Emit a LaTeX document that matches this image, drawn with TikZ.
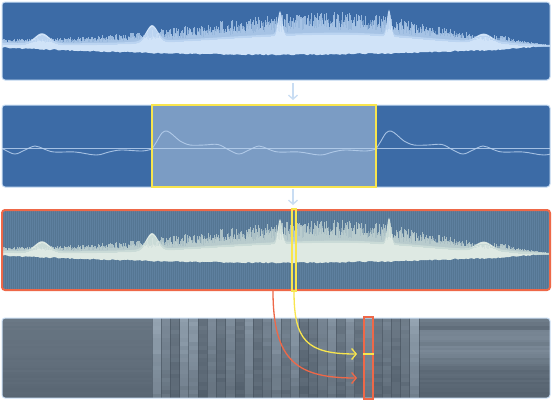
\documentclass[tikz,border=0pt]{standalone}
\usetikzlibrary{arrows.meta}
\definecolor{pblue}{HTML}{3C6BA6}
\definecolor{pborder}{HTML}{C9DDF3}
\definecolor{wcore}{HTML}{D0E3F8}
\definecolor{whair}{HTML}{B8D2F0}
\definecolor{ylw}{HTML}{F8E54E}
\definecolor{selfill}{HTML}{7B9CC4}
\definecolor{curvec}{HTML}{B9D1EE}
\definecolor{steel}{HTML}{5E809F}
\definecolor{steeldark}{HTML}{52728F}
\definecolor{mint}{HTML}{DEE9E3}
\definecolor{minthair}{HTML}{C8D9D6}
\definecolor{redc}{HTML}{EE6848}
\definecolor{sDark}{HTML}{434F5B}
\definecolor{sLight}{HTML}{A3B3C2}
\pgfmathdeclarefunction{gss}{3}{\pgfmathparse{exp(-min(abs((#1-#2)/#3),6)*min(abs((#1-#2)/#3),6))}}
\pgfmathdeclarefunction{wamp}{1}{\pgfmathparse{(6+36*gss(#1,330,(#1<330)*200+(#1>=330)*135))*min(1,(551-#1)/45)}}
\pgfmathdeclarefunction{wlow}{1}{\pgfmathparse{47+7*sin(0.328467*(#1-2))-2*max(0,(#1-500)/50)}}
\pgfmathdeclarefunction{coretop}{1}{\pgfmathparse{wlow(#1)-0.5*wamp(#1)-10*gss(#1,42,10)-16*gss(#1,152,8)-8*gss(#1,484,11)-23*gss(#1,280,3)-25*gss(#1,389,2.8)}}
\newcommand{\drawwave}[2]{%
  \pgfmathsetseed{5}%
  \fill[#1] plot[domain=2:550, samples=549, variable=\x] (\x,{coretop(\x)}) -- plot[domain=550:2, samples=275, variable=\x] (\x,{wlow(\x)+1.3*rnd}) -- cycle;
  \foreach \x in {2.5,3.5,...,549.5}{%
    \pgfmathsetmacro\hb{coretop(\x)+2}%
    \pgfmathsetmacro\ht{wlow(\x)-wamp(\x)*(0.62+0.38*rnd)}%
    \draw[#2, opacity=.75] (\x,\hb) -- (\x,\ht);
  }%
  \foreach \x in {3,4,...,549}{%
    \pgfmathsetmacro\hb{coretop(\x)+2}%
    \pgfmathsetmacro\ht{wlow(\x)-wamp(\x)*(0.55+0.3*rnd)}%
    \draw[#2, opacity=.45] (\x,\hb) -- (\x,\ht);
  }%
}
\begin{document}
\begin{tikzpicture}[x=1pt,y=-1pt,
  panel/.style={rounded corners=3pt, draw=pborder, line width=1pt},
  flowarrow/.style={draw=pborder, line width=1.3pt, -{Straight Barb[length=4pt,width=9pt]}},
  hairA/.style={whair, line width=.7pt},
  hairB/.style={minthair, line width=.7pt},
  selbox/.style={draw=ylw, line width=1.8pt},
  ylink/.style={draw=ylw, line width=1.3pt, -{Straight Barb[length=4.5pt,width=11pt]}},
  rlink/.style={draw=redc, line width=1.3pt, -{Straight Barb[length=4.5pt,width=11pt]}},
  thinline/.style={line width=.9pt, opacity=.85}]
\useasboundingbox (0,0) rectangle (552,400);
\fill[white] (0,0) rectangle (552,400);

% ---------- panel 1 ----------
\fill[pblue, rounded corners=3pt] (2,2) rectangle (550,80);
\begin{scope}
  \clip[rounded corners=3pt] (2,2) rectangle (550,80);
  \drawwave{wcore}{hairA}
\end{scope}
\draw[panel] (2,2) rectangle (550,80);

% ---------- panel 2 ----------
\fill[pblue, rounded corners=3pt] (2,105) rectangle (550,187);
\fill[selfill] (152,105) rectangle (376,187);
\begin{scope}
  \clip[rounded corners=3pt] (2,105) rectangle (550,187);
  \draw[curvec, thinline] (2,148) -- (550,148);
  \foreach \s in {-224,0,224}{
    \begin{scope}[shift={(152+\s,0)}]
      \draw[curvec, thinline] plot[smooth, tension=.6] coordinates {(0,149) (5,141) (10,133) (15,131) (21,135) (28,141) (38,145) (52,145) (66,144.5) (77,150) (87,154) (97,150) (107,146) (116,149) (126,152) (147,152) (168,155) (181,152) (193,150) (214,151) (224,149)};
    \end{scope}
  }
\end{scope}
\draw[panel] (2,105) rectangle (550,187);
\node[selbox, minimum width=224pt, minimum height=82pt, inner sep=0pt] (sel) at (264,146) {};

% ---------- panel 3 ----------
\fill[steel, rounded corners=3pt] (2,210) rectangle (550,290);
\begin{scope}
  \clip[rounded corners=3pt] (2,210) rectangle (550,290);
  \foreach \x in {3,5,...,549}{\draw[steeldark, line width=.8pt, opacity=.7] (\x,210) -- (\x,290);}
  \begin{scope}[shift={(0,208)}]
    \drawwave{mint}{hairB}
  \end{scope}
\end{scope}
\draw[rounded corners=3pt, draw=redc, line width=2pt] (2,210) rectangle (550,290);

% ---------- panel 4 (spectrogram) ----------
\pgfmathsetseed{11}
\begin{scope}
  \clip[rounded corners=3pt] (2,318) rectangle (550,398);
  \foreach \y in {318,320,...,396}{
    \pgfmathsetmacro\pc{int(38-16*(\y-318)/80+4*rnd)}
    \fill[sLight!\pc!sDark] (2,\y) rectangle (152.5,\y+2.2);
  }
  \foreach \v [count=\i from 0] in {78,55,38,72,68,33,52,36,52,33,62,36,48,64,45,66,33,36,48,58,38,60,36,58,38,45,36,45,74}{
    \pgfmathsetmacro\xa{152+\i*9.207}
    \foreach \y in {318,322,...,394}{
      \pgfmathsetmacro\pc{int(max(0,min(100,\v*(1.12-0.5*(\y-318)/80)+10*rnd-5)))}
      \fill[sLight!\pc!sDark] (\xa,\y) rectangle (\xa+9.3,\y+4.1);
    }
    \draw[sDark, opacity=.55, line width=.7pt] (\xa,318) -- (\xa,398);
  }
  \foreach \v [count=\j from 0] in {46,40,30,52,56,54,48,55,57,50,44,40,33,28,30,26,24,22,20,20}{
    \pgfmathsetmacro\ya{318+\j*4}
    \pgfmathsetmacro\pa{int(\v+6*rnd-3)}
    \pgfmathsetmacro\pb{int(\v+6*rnd-3)}
    \fill[sLight!\pa!sDark] (419,\ya) rectangle (550,\ya+2.1);
    \fill[sLight!\pb!sDark] (419,\ya+2) rectangle (550,\ya+4.1);
  }
  \draw[sDark, opacity=.55, line width=.7pt] (419,318) -- (419,398);
\end{scope}
\draw[panel] (2,318) rectangle (550,398);

% ---------- flow arrows ----------
\coordinate (a1s) at (293,83);
\coordinate (a1e) at (293,100);
\coordinate (a2s) at (293,189);
\coordinate (a2e) at (293,205);
\draw[flowarrow] (a1s) -- (a1e);
\draw[flowarrow] (a2s) -- (a2e);

% ---------- frame marker and links ----------
\node[draw=ylw, line width=1.2pt, minimum width=4pt, minimum height=82pt, inner sep=0pt] (frame) at (294,250) {};
\node[draw=redc, line width=1.6pt, minimum width=9pt, minimum height=82pt, inner sep=0pt] (col) at (368.5,358) {};
\coordinate (ys) at (294,291);
\coordinate (ye) at (357,354);
\coordinate (rs) at (273,291);
\coordinate (re) at (357,378);
\draw[ylink] (ys) .. controls (294,340) and (306,354) .. (ye);
\draw[rlink] (rs) .. controls (273,362) and (298,378) .. (re);
\draw[ylw, line width=1.6pt] (col.west |- ye) -- (col.east |- ye);
\end{tikzpicture}
\end{document}
